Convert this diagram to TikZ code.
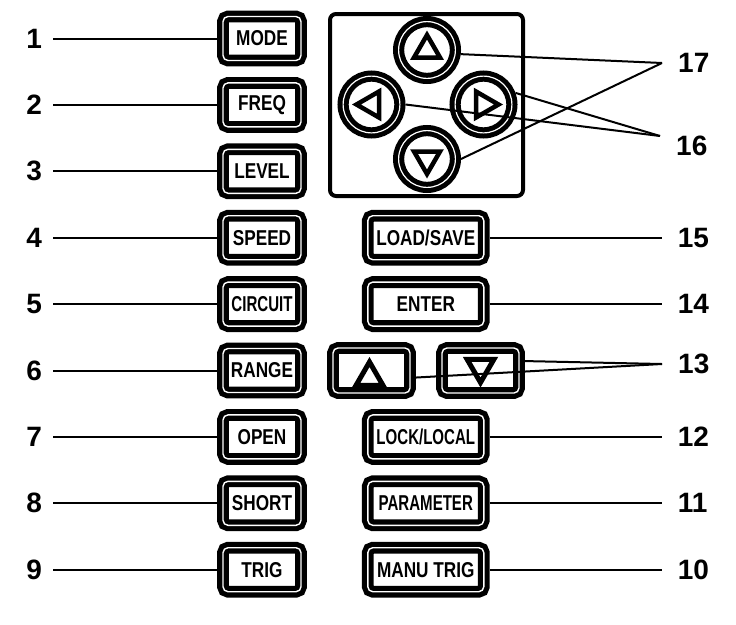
\documentclass[tikz,border=0pt]{standalone}
\usepackage{fontspec}
\setmainfont{Liberation Sans}
\newfontfamily\keyfont[FakeStretch=0.8]{Liberation Sans}
\newfontfamily\keyfontnarrow[FakeStretch=0.7]{Liberation Sans}
\usetikzlibrary{shapes.geometric, positioning}
\tikzset{
    key/.style={rectangle, rounded corners=5pt, draw=black, line width=5.2pt, double=white, double distance=1.4pt, minimum width=78pt, minimum height=44pt, inner sep=0pt, outer sep=5.9pt, text centered, font=\keyfont\bfseries\fontsize{21.5}{22}\selectfont},
    widekey/.style={key, minimum width=116pt},
    arrowkey/.style={key, minimum width=77pt, minimum height=45pt},
    narrowtext/.style={font=\keyfontnarrow\bfseries\fontsize{21.5}{22}\selectfont},
    knob/.style={circle, draw=black, line width=5pt, double=white, double distance=1.2pt, minimum size=56.8pt, inner sep=0pt, outer sep=5.6pt},
    knobtri/.style={regular polygon, regular polygon sides=3, draw=black, line width=4.5pt, minimum size=30pt, inner sep=0pt},
    keytri/.style={knobtri, line width=5pt, minimum size=31pt},
    panel/.style={rectangle, draw=black, line width=4pt, rounded corners=6pt, minimum width=193pt, minimum height=182pt},
    lnum/.style={font=\bfseries\fontsize{28}{30}\selectfont, inner xsep=11pt, inner ysep=0pt},
    rnum/.style={lnum, inner xsep=16pt},
    leader/.style={line width=2pt},
}

\begin{document}
\begin{tikzpicture}[x=1pt, y=-1pt, node distance=10.6pt and 55pt]
    \useasboundingbox (0,0) rectangle (736,624);

    % Left column of keys
    \node[key] (mode) at (262,38.5) {MODE};
    \node[key, below=of mode] (freq) {FREQ};
    \node[key, below=of freq] (level) {LEVEL};
    \node[key, below=of level] (speed) {SPEED};
    \node[key, narrowtext, below=of speed] (circuit) {CIRCUIT};
    \node[key, below=of circuit] (range) {RANGE};
    \node[key, below=of range] (open) {OPEN};
    \node[key, below=of open] (short) {SHORT};
    \node[key, below=of short] (trig) {TRIG};

    % Cursor panel
    \node[panel] (panel) at (426.5,105) {};
    \node[knob] (knob_up) at (427,50) {};
    \node[knob] (knob_down) at (427,159) {};
    \node[knob] (knob_left) at (371.5,104.5) {};
    \node[knob] (knob_right) at (483.5,104.5) {};
    \node[knobtri] (knob_up_tri) at (knob_up) {};
    \node[knobtri, shape border rotate=180] (knob_down_tri) at (knob_down) {};
    \node[knobtri, shape border rotate=90] (knob_left_tri) at (knob_left) {};
    \node[knobtri, shape border rotate=-90] (knob_right_tri) at (knob_right) {};

    % Right column of keys
    \node[widekey, right=of speed] (loadsave) {LOAD/SAVE};
    \node[widekey] (enter) at (loadsave |- circuit) {ENTER};
    \node[arrowkey, right=20.2pt of range] (key_up) {};
    \node[arrowkey, right=20.2pt of key_up] (key_down) {};
    \node[keytri] (key_up_tri) at ([xshift=-2pt, yshift=-7pt]key_up.center) {};
    \node[keytri, shape border rotate=180] (key_down_tri) at ([yshift=3.5pt]key_down.center) {};
    \node[widekey, narrowtext] (lock) at (loadsave |- open) {LOCK/LOCAL};
    \node[widekey, narrowtext] (parameter) at (loadsave |- short) {PARAMETER};
    \node[widekey] (manutrig) at (loadsave |- trig) {MANU TRIG};

    % Numbers
    \node[lnum, left=164pt of mode] (n1) {1};
    \node[lnum, left=164pt of freq] (n2) {2};
    \node[lnum, left=164pt of level] (n3) {3};
    \node[lnum, left=164pt of speed] (n4) {4};
    \node[lnum, left=164pt of circuit] (n5) {5};
    \node[lnum, left=164pt of range] (n6) {6};
    \node[lnum, left=164pt of open] (n7) {7};
    \node[lnum, left=164pt of short] (n8) {8};
    \node[lnum, left=164pt of trig] (n9) {9};
    \node[rnum, right=172pt of manutrig] (n10) {10};
    \node[rnum, right=172pt of parameter] (n11) {11};
    \node[rnum, right=172pt of lock] (n12) {12};
    \node[rnum, anchor=west] (n13) at (662,364) {13};
    \node[rnum, right=172pt of enter] (n14) {14};
    \node[rnum, right=172pt of loadsave] (n15) {15};
    \node[rnum, anchor=north west] (n16) at (660,136) {16};
    \node[rnum, anchor=west] (n17) at (662,63) {17};

    % Leaders
    \draw[leader] (n1) -- (mode);
    \draw[leader] (n2) -- (freq);
    \draw[leader] (n3) -- (level);
    \draw[leader] (n4) -- (speed);
    \draw[leader] (n5) -- (circuit);
    \draw[leader] (n6) -- (range);
    \draw[leader] (n7) -- (open);
    \draw[leader] (n8) -- (short);
    \draw[leader] (n9) -- (trig);

    \draw[leader] (manutrig) -- (n10);
    \draw[leader] (parameter) -- (n11);
    \draw[leader] (lock) -- (n12);
    \draw[leader] (key_up.-9) -- (n13.west);
    \draw[leader] (key_down.12) -- (n13.west);
    \draw[leader] (enter) -- (n14);
    \draw[leader] (loadsave) -- (n15);
    \draw[leader] (knob_left.east) -- (n16.north west);
    \draw[leader] (knob_right.20) -- (n16.north west);
    \draw[leader] (knob_up.-7) -- (n17.west);
    \draw[leader] (knob_down.east) -- (n17.west);
\end{tikzpicture}
\end{document}
